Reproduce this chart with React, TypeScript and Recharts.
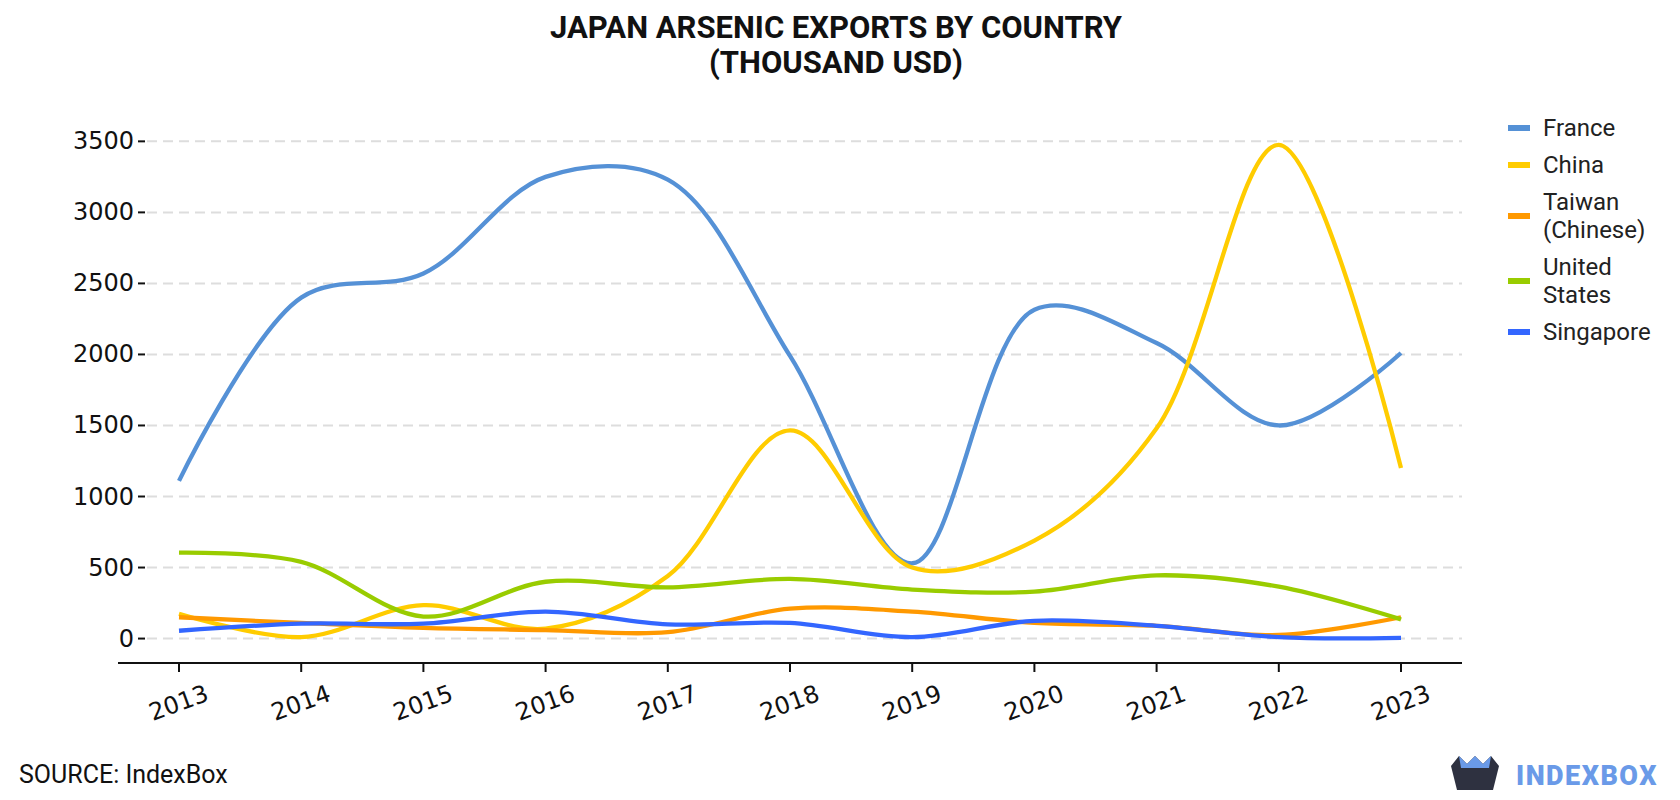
import React from 'react';
import { LineChart, Line, XAxis, YAxis, CartesianGrid } from 'recharts';

const years = ['2013', '2014', '2015', '2016', '2017', '2018', '2019', '2020', '2021', '2022', '2023'];
const france = [1110, 2400, 2570, 3250, 3230, 1990, 530, 2315, 2080, 1500, 2010];
const china = [175, 10, 235, 70, 440, 1465, 500, 690, 1480, 3475, 1200];
const taiwan = [150, 110, 75, 60, 45, 210, 190, 110, 90, 25, 150];
const unitedStates = [605, 540, 155, 400, 360, 420, 345, 330, 445, 365, 135];
const singapore = [55, 105, 105, 190, 100, 110, 10, 125, 90, 10, 5];
const yTicks = [0, 500, 1000, 1500, 2000, 2500, 3000, 3500];

const seriesDefs = [
  { key: 'france', name: 'France', color: '#5591d6', values: france },
  { key: 'china', name: 'China', color: '#ffcc00', values: china },
  { key: 'taiwan', name: 'Taiwan (Chinese)', color: '#ff9900', values: taiwan },
  { key: 'us', name: 'United States', color: '#99cc00', values: unitedStates },
  { key: 'singapore', name: 'Singapore', color: '#3366ff', values: singapore },
];

const data = years.map((y, i) => {
  const row: any = { year: y };
  seriesDefs.forEach((s) => {
    row[s.key] = s.values[i];
  });
  return row;
});

// Centripetal Catmull-Rom curve (alpha = 0.5) in pixel space
function catmullRom(alpha: number) {
  return function (context: any) {
    let x0 = NaN, y0 = NaN, x1 = NaN, y1 = NaN, x2 = NaN, y2 = NaN;
    let l01a = 0, l12a = 0, l23a = 0, l01_2a = 0, l12_2a = 0, l23_2a = 0;
    let pt = 0;
    const seg = (x: number, y: number) => {
      let cx1 = x1, cy1 = y1, cx2 = x2, cy2 = y2;
      if (l01a > 1e-12) {
        const a = 2 * l01_2a + 3 * l01a * l12a + l12_2a;
        const n = 3 * l01a * (l01a + l12a);
        cx1 = (x1 * a - x0 * l12_2a + x2 * l01_2a) / n;
        cy1 = (y1 * a - y0 * l12_2a + y2 * l01_2a) / n;
      }
      if (l23a > 1e-12) {
        const b = 2 * l23_2a + 3 * l23a * l12a + l12_2a;
        const m = 3 * l23a * (l23a + l12a);
        cx2 = (x2 * b + x1 * l23_2a - x * l12_2a) / m;
        cy2 = (y2 * b + y1 * l23_2a - y * l12_2a) / m;
      }
      context.bezierCurveTo(cx1, cy1, cx2, cy2, x2, y2);
    };
    const obj = {
      areaStart() {},
      areaEnd() {},
      lineStart() {
        x0 = x1 = x2 = y0 = y1 = y2 = NaN;
        l01a = l12a = l23a = l01_2a = l12_2a = l23_2a = 0;
        pt = 0;
      },
      lineEnd() {
        if (pt === 2) context.lineTo(x2, y2);
        else if (pt === 3) obj.point(x2, y2);
      },
      point(xIn: number, yIn: number) {
        const x = +xIn;
        const y = +yIn;
        if (pt) {
          const dx = x2 - x;
          const dy = y2 - y;
          l23_2a = Math.pow(dx * dx + dy * dy, alpha);
          l23a = Math.sqrt(l23_2a);
        }
        if (pt === 0) {
          pt = 1;
          context.moveTo(x, y);
        } else if (pt === 1) {
          pt = 2;
        } else {
          pt = 3;
          seg(x, y);
        }
        l01a = l12a; l12a = l23a;
        l01_2a = l12_2a; l12_2a = l23_2a;
        x0 = x1; x1 = x2; x2 = x;
        y0 = y1; y1 = y2; y2 = y;
      },
    };
    return obj;
  };
}
const smoothCurve = catmullRom(0.5);

const GRID_LEFT = 147;

const XTick = (props: any) => {
  const { x, y, payload } = props;
  return (
    <text
      x={x}
      y={y + 37}
      transform={`rotate(-20, ${x}, ${y + 30})`}
      textAnchor="middle"
      fontFamily="DejaVu Sans"
      fontSize={24}
      fill="#111"
    >
      {payload.value}
    </text>
  );
};

const YTick = (props: any) => {
  const { y, payload } = props;
  return (
    <g>
      <line x1={GRID_LEFT - 9} x2={GRID_LEFT - 2} y1={y} y2={y} stroke="#111" strokeWidth={2} />
      <text x={GRID_LEFT - 13} y={y + 8} textAnchor="end" fontFamily="DejaVu Sans" fontSize={24} fill="#111">
        {payload.value}
      </text>
    </g>
  );
};

const gridLine = (props: any) => (
  <line
    key={props.key}
    x1={GRID_LEFT}
    y1={props.y1}
    x2={props.x2}
    y2={props.y2}
    stroke="#dddddd"
    strokeWidth={2}
    strokeDasharray="10 6"
  />
);

export default function App() {
  return (
    <div style={{ position: 'absolute', left: 0, top: 0, width: 1680, height: 800, background: '#fff' }}>
      <div
        style={{
          position: 'absolute',
          left: 0,
          top: 10,
          width: 1672,
          textAlign: 'center',
          fontFamily: 'Roboto',
          fontWeight: 700,
          fontSize: 31,
          lineHeight: '35px',
          color: '#111',
        }}
      >
        JAPAN ARSENIC EXPORTS BY COUNTRY
        <br />
        (THOUSAND USD)
      </div>
      <LineChart width={1680} height={800} data={data} margin={{ top: 127, right: 218, bottom: 57, left: 18 }}>
        <CartesianGrid vertical={false} horizontal={gridLine} horizontalValues={yTicks} />
        <XAxis
          dataKey="year"
          height={80}
          padding={{ left: 61, right: 61 }}
          axisLine={{ stroke: '#111', strokeWidth: 2 }}
          tickLine={{ stroke: '#111', strokeWidth: 2 }}
          tickSize={9}
          tick={<XTick />}
          interval={0}
        />
        <YAxis
          width={100}
          domain={[-172, 3601]}
          ticks={yTicks}
          allowDataOverflow
          axisLine={false}
          tickLine={false}
          tick={<YTick />}
        />
        {seriesDefs.map((s) => (
          <Line
            key={s.key}
            dataKey={s.key}
            name={s.name}
            type={smoothCurve as any}
            stroke={s.color}
            strokeWidth={4.3}
            dot={false}
            activeDot={false}
            isAnimationActive={false}
          />
        ))}
      </LineChart>
      <div
        style={{
          position: 'absolute',
          left: 1508,
          top: 114,
          fontFamily: 'Roboto',
          fontSize: 24,
          color: '#222',
        }}
      >
        {seriesDefs.map((s) => (
          <div key={s.key} style={{ display: 'flex', alignItems: 'center', marginBottom: 9 }}>
            <div style={{ width: 22, height: 6, background: s.color, marginRight: 13, flexShrink: 0 }} />
            <div style={{ width: 125, lineHeight: '28px' }}>{s.name}</div>
          </div>
        ))}
      </div>
      <div
        style={{
          position: 'absolute',
          left: 19,
          top: 760,
          fontFamily: 'Roboto',
          fontSize: 25,
          lineHeight: '30px',
          color: '#111',
        }}
      >
        SOURCE: IndexBox
      </div>
      <svg style={{ position: 'absolute', left: 1447, top: 752 }} width={233} height={44}>
        <polygon points="4,14 12,4 20,12 28,4 36,12 44,4 52,14 46,38 10,38" fill="#2e3140" />
        <polygon points="12,4 20,12 28,4 36,12 44,4 42,16 14,16" fill="#6a9ae8" />
        <text x={69} y={33} fontFamily="Roboto" fontWeight={900} fontSize={27} fill="#6a9ae8" letterSpacing={1.5}>
          INDEXBOX
        </text>
      </svg>
    </div>
  );
}
